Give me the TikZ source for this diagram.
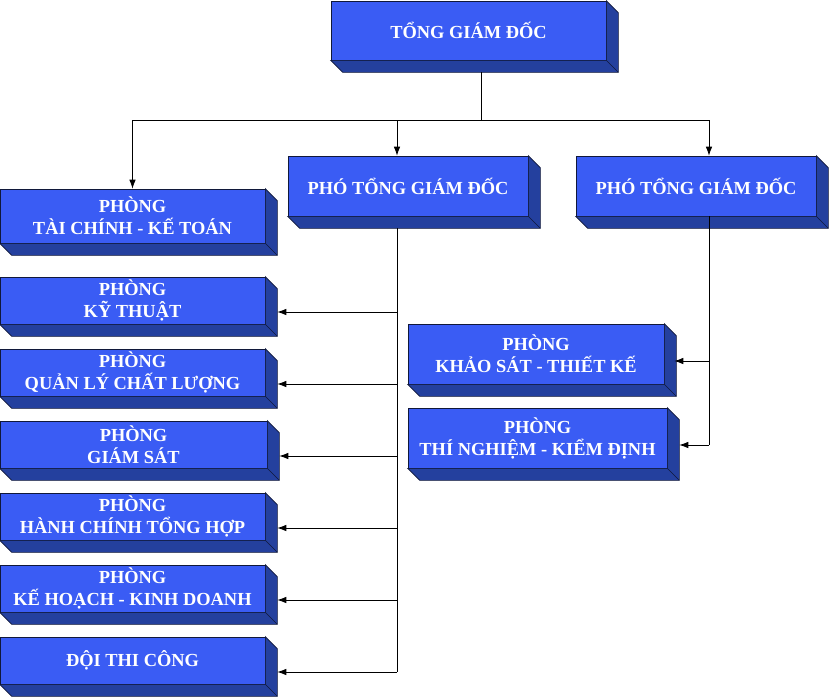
\documentclass[tikz,border=0pt]{standalone}
\usepackage{fontspec}
\setmainfont{Liberation Serif}
\usetikzlibrary{calc,arrows.meta}
\definecolor{frontcol}{HTML}{3A5CF4}
\definecolor{sidecol}{HTML}{24409E}
\definecolor{edgecol}{HTML}{10183A}
\newcommand\boxside[1]{%
  \fill[sidecol,draw=edgecol,line width=0.6pt] (#1.north east) -- ++(12,12) |- ($(#1.south west)+(12,12)$) -- (#1.south west) -- (#1.south east) -- cycle;
  \draw[edgecol,line width=0.6pt] (#1.south east) -- ++(12,12);}
\tikzset{
  orgbox/.style={fill=frontcol,draw=edgecol,line width=0.6pt,text=white,inner sep=0pt,align=center,
    font=\fontsize{18.4}{22}\selectfont\bfseries},
  conn/.style={line width=0.8pt,black},
  arr/.style={conn,-{Latex[length=9pt,width=6.5pt]}}
}
\begin{document}
\begin{tikzpicture}[x=1pt,y=-1pt]
\useasboundingbox (0,0) rectangle (829,697);
% top
\node[orgbox,minimum width=275,minimum height=59] (top) at (468.5,30.5) {TỔNG GIÁM ĐỐC};
\node[orgbox,minimum width=240,minimum height=60] (phoL) at (408,186) {PHÓ TỔNG GIÁM ĐỐC};
\node[orgbox,minimum width=240,minimum height=60] (phoR) at (696,186) {PHÓ TỔNG GIÁM ĐỐC};
\node[orgbox,minimum width=265,minimum height=54] (tc) at (132.5,216) {PHÒNG\\TÀI CHÍNH - KẾ TOÁN};
\node[orgbox,minimum width=265,minimum height=47] (kt) at (132.5,300.5) {PHÒNG\\KỸ THUẬT};
\node[orgbox,minimum width=265,minimum height=47] (ql) at (132.5,372.5) {PHÒNG\\QUẢN LÝ CHẤT LƯỢNG};
\node[orgbox,minimum width=267,minimum height=47] (gs) at (133.5,444.5) {PHÒNG\\GIÁM SÁT};
\node[orgbox,minimum width=265,minimum height=47] (hc) at (132.5,516.5) {PHÒNG\\HÀNH CHÍNH TỔNG HỢP};
\node[orgbox,minimum width=265,minimum height=47] (kh) at (132.5,588.5) {PHÒNG\\KẾ HOẠCH - KINH DOANH};
\node[orgbox,minimum width=265,minimum height=47] (dtc) at (132.5,660.5) {ĐỘI THI CÔNG};
\node[orgbox,minimum width=256,minimum height=60] (ks) at (536,354) {PHÒNG\\KHẢO SÁT - THIẾT KẾ};
\node[orgbox,minimum width=259,minimum height=60] (tn) at (537.5,438) {PHÒNG\\THÍ NGHIỆM - KIỂM ĐỊNH};
\foreach \n in {top,phoL,phoR,tc,kt,ql,gs,hc,kh,dtc,ks,tn} {\boxside{\n}}
% top bus
\coordinate (topOut) at ($(top.south)+(12.5,12)$);
\coordinate (bus) at (topOut |- 0,120);
\coordinate (inL) at ([xshift=-11pt]phoL.north);
\coordinate (inR) at ([xshift=13pt]phoR.north);
\coordinate (busA) at (tc.north |- bus);
\coordinate (busB) at (inL |- bus);
\coordinate (busC) at (inR |- bus);
\draw[conn] (topOut) -- (bus);
\draw[conn] (busA) -- (busC);
\draw[arr] (busA) -- (tc.north);
\draw[arr] (busB) -- (inL);
\draw[arr] (busC) -- (inR);
% left trunk
\coordinate (outL) at ($(phoL.south)+(-11,12)$);
\foreach \n in {kt,ql,gs,hc,kh,dtc} {\coordinate (t\n) at ($(\n.east)+(12,11.5)$);}
\draw[conn] (outL) -- (outL |- tdtc);
\foreach \n in {kt,ql,gs,hc,kh,dtc} {\draw[arr] (outL |- t\n) -- (t\n);}
% right trunk
\coordinate (outR) at ($(phoR.south)+(13,0)$);
\coordinate (tks) at ($(ks.east)+(10,7)$);
\coordinate (ttn) at ($(tn.east)+(12,7)$);
\draw[conn] (outR) -- (outR |- ttn);
\draw[arr] (outR |- tks) -- (tks);
\draw[arr] (outR |- ttn) -- (ttn);
\end{tikzpicture}
\end{document}
